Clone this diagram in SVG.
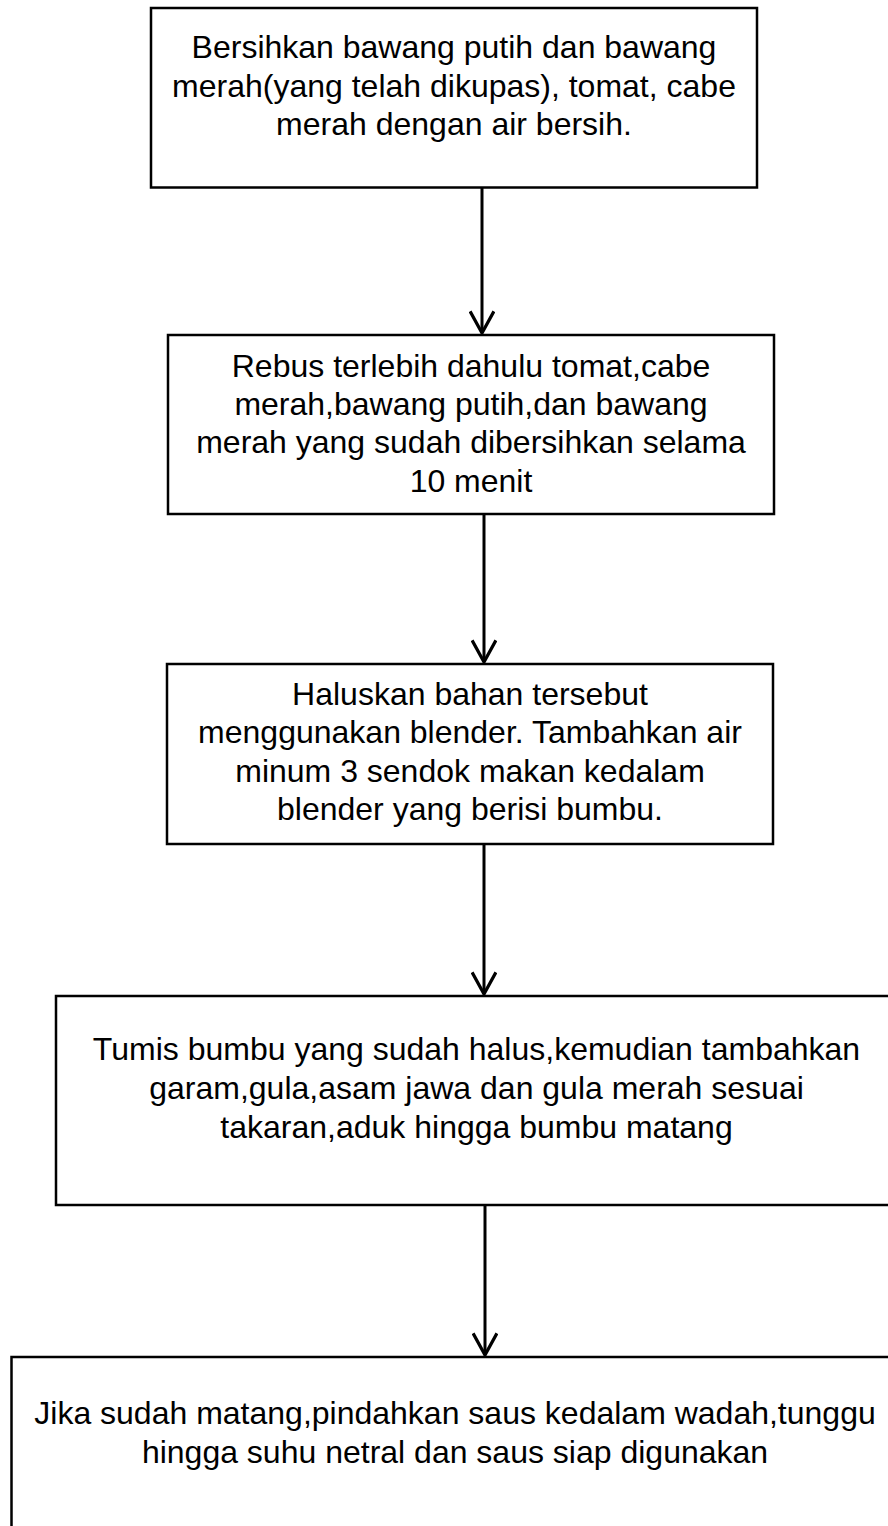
<svg xmlns="http://www.w3.org/2000/svg" width="888" height="1526" viewBox="0 0 888 1526">
<style>
.box{fill:#fff;stroke:#000;stroke-width:2.5}
.t{font-family:"Liberation Sans",Arial,sans-serif;font-size:32px;fill:#000;text-anchor:middle}
.c{stroke:#000;stroke-width:3;fill:none}
</style>
<defs>
<marker id="ah" markerUnits="userSpaceOnUse" markerWidth="26" markerHeight="26" refX="22" refY="12" orient="auto" viewBox="0 0 24 24">
<path d="M2,1 L22,12 L2,23" fill="none" stroke="#000" stroke-width="3"/>
</marker>
</defs>
<rect width="888" height="1526" fill="#fff"/>
<g id="connectors">
<line class="c" x1="482" y1="188" x2="482" y2="333" marker-end="url(#ah)"/>
<line class="c" x1="484" y1="515" x2="484" y2="662" marker-end="url(#ah)"/>
<line class="c" x1="484" y1="845" x2="484" y2="994" marker-end="url(#ah)"/>
<line class="c" x1="485" y1="1206" x2="485" y2="1355" marker-end="url(#ah)"/>
</g>
<g id="n1">
<rect class="box" x="151" y="8" width="606" height="179.5"/>
<text class="t" x="454" y="58">Bersihkan bawang putih dan bawang</text>
<text class="t" x="454" y="96.5">merah(yang telah dikupas), tomat, cabe</text>
<text class="t" x="454" y="135">merah dengan air bersih.</text>
</g>
<g id="n2">
<rect class="box" x="168" y="335" width="606" height="179"/>
<text class="t" x="471" y="377">Rebus terlebih dahulu tomat,cabe</text>
<text class="t" x="471" y="415">merah,bawang putih,dan bawang</text>
<text class="t" x="471" y="453">merah yang sudah dibersihkan selama</text>
<text class="t" x="471" y="492">10 menit</text>
</g>
<g id="n3">
<rect class="box" x="167" y="664" width="606" height="180"/>
<text class="t" x="470" y="705">Haluskan bahan tersebut</text>
<text class="t" x="470" y="743">menggunakan blender. Tambahkan air</text>
<text class="t" x="470" y="782">minum 3 sendok makan kedalam</text>
<text class="t" x="470" y="820">blender yang berisi bumbu.</text>
</g>
<g id="n4">
<rect class="box" x="56" y="996" width="842" height="209"/>
<text class="t" x="476.5" y="1060">Tumis bumbu yang sudah halus,kemudian tambahkan</text>
<text class="t" x="476.5" y="1099">garam,gula,asam jawa dan gula merah sesuai</text>
<text class="t" x="476.5" y="1138">takaran,aduk hingga bumbu matang</text>
</g>
<g id="n5">
<rect class="box" x="11.5" y="1357" width="887" height="200"/>
<text class="t" x="455" y="1424">Jika sudah matang,pindahkan saus kedalam wadah,tunggu</text>
<text class="t" x="455" y="1463">hingga suhu netral dan saus siap digunakan</text>
</g>
</svg>
